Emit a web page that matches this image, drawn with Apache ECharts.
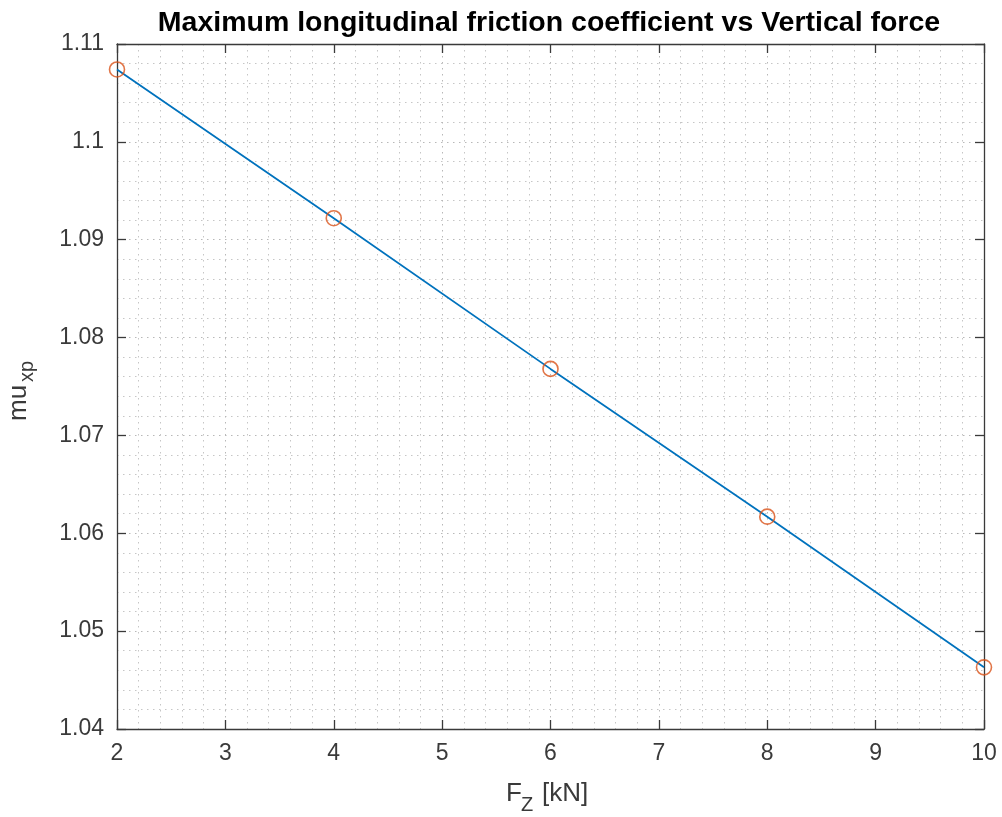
<!DOCTYPE html>
<html>
<head>
<meta charset="utf-8">
<script src="https://cdn.jsdelivr.net/npm/echarts@6/dist/echarts.min.js"></script>
<style>
  html, body { margin: 0; padding: 0; background: #fff; }
  #chart { width: 1002px; height: 817px; }
</style>
</head>
<body>
<div id="chart"></div>
<script>
// 数据
var forceKN = [2, 4, 6, 8, 10];
var muXp = [1.1074, 1.0922, 1.0768, 1.0617, 1.0463];
var xTicks = { min: 2, max: 10, step: 1 };
var yTicks = { min: 1.04, max: 1.11, step: 0.01 };

var axisColor = '#262626';
var font = "'Liberation Sans', Arial, sans-serif";

var points = [];
for (var i = 0; i < forceKN.length; i++) {
    points.push([forceKN[i], muXp[i]]);
}

var chart = echarts.init(document.getElementById('chart'));

// 公共坐标轴样式
function baseAxis(extra) {
    var ax = {
        type: 'value',
        axisLine: { show: true, lineStyle: { color: '#3a3a3a', width: 1.3 } },
        axisTick: { show: true, inside: true, length: 9, lineStyle: { color: '#3a3a3a', width: 1.3 } },
        axisLabel: { show: false },
        splitLine: { show: false },
        minorSplitLine: { show: false }
    };
    for (var k in extra) ax[k] = extra[k];
    return ax;
}

var option = {
    animation: false,
    backgroundColor: '#fff',
    title: {
        text: 'Maximum longitudinal friction coefficient vs Vertical force',
        left: 549,
        top: 9,
        padding: 0,
        textAlign: 'center',
        textStyle: { fontFamily: font, fontSize: 28.5, fontWeight: 'bold', color: '#000' }
    },
    grid: { left: 117, top: 44, right: 18, bottom: 88 },
    xAxis: [
        baseAxis({
            position: 'bottom',
            min: xTicks.min, max: xTicks.max, interval: xTicks.step,
            minorTick: { show: false, splitNumber: 5 },
            axisLabel: { show: true, fontFamily: font, fontSize: 23, color: '#3a3a3a', margin: 13 },
            splitLine: { show: true, lineStyle: { color: '#b8b8b8', width: 1, type: [1.5, 4.5] } },
            minorSplitLine: { show: true, lineStyle: { color: '#c6c6c6', width: 1, type: [1.5, 4.5] } }
        }),
        baseAxis({ position: 'top', min: xTicks.min, max: xTicks.max, interval: xTicks.step })
    ],
    yAxis: [
        baseAxis({
            position: 'left',
            min: yTicks.min, max: yTicks.max, interval: yTicks.step,
            minorTick: { show: false, splitNumber: 5 },
            axisLabel: {
                show: true, fontFamily: font, fontSize: 23, color: '#3a3a3a', margin: 13,
                formatter: function (v) { return String(+v.toFixed(2)); }
            },
            splitLine: { show: true, lineStyle: { color: '#b8b8b8', width: 1, type: [1.5, 4.5] } },
            minorSplitLine: { show: true, lineStyle: { color: '#c6c6c6', width: 1, type: [1.5, 4.5] } }
        }),
        baseAxis({ position: 'right', min: yTicks.min, max: yTicks.max, interval: yTicks.step })
    ],
    graphic: [
        // x轴标题 F_Z [kN]
        { type: 'text', x: 506, y: 794, style: { text: 'F', font: '26px ' + font, fill: '#3a3a3a', align: 'left', verticalAlign: 'middle' } },
        { type: 'text', x: 521, y: 805, style: { text: 'Z', font: '20px ' + font, fill: '#3a3a3a', align: 'left', verticalAlign: 'middle' } },
        { type: 'text', x: 542, y: 794, style: { text: '[kN]', font: '26px ' + font, fill: '#3a3a3a', align: 'left', verticalAlign: 'middle' } },
        // y轴标题 mu_xp
        { type: 'text', x: 19, y: 421, rotation: Math.PI / 2, style: { text: 'mu', font: '26px ' + font, fill: '#3a3a3a', align: 'left', verticalAlign: 'middle' } },
        { type: 'text', x: 27, y: 382, rotation: Math.PI / 2, style: { text: 'xp', font: '20px ' + font, fill: '#3a3a3a', align: 'left', verticalAlign: 'middle' } }
    ],
    series: [
        {
            type: 'line',
            data: points,
            showSymbol: false,
            lineStyle: { color: '#0072BD', width: 1.8 },
            z: 2
        },
        {
            type: 'scatter',
            data: points,
            symbol: 'circle',
            symbolSize: 15,
            itemStyle: { color: 'rgba(0,0,0,0)', borderColor: '#D95319', borderWidth: 1.6 },
            z: 3
        }
    ]
};

chart.setOption(option);
</script>
</body>
</html>
